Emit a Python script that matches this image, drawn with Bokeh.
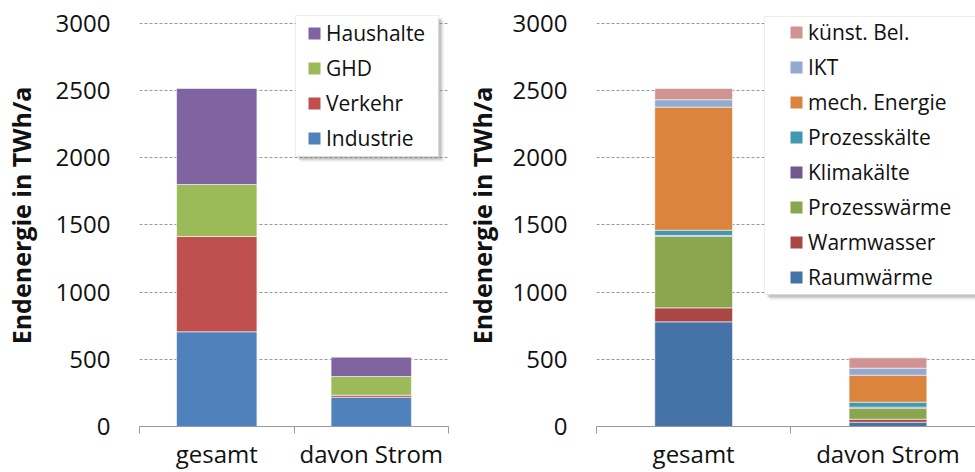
from bokeh.plotting import figure
from bokeh.models import (ColumnDataSource, Range1d, FixedTicker, Legend,
                          LegendItem, BoxAnnotation)
from bokeh.layouts import row
from bokeh.embed import file_html
from bokeh.resources import INLINE

# ---------------- data ----------------
categories = ["gesamt", "davon Strom"]
y_ticks = [0, 500, 1000, 1500, 2000, 2500, 3000]

# left chart: by sector
sectors = ["Industrie", "Verkehr", "GHD", "Haushalte"]
industrie = [705, 218]
verkehr = [709, 15]
ghd = [387, 139]
haushalte = [715, 144]
sector_colors = ["#4f81bd", "#c0504d", "#9bbb59", "#8064a2"]

# right chart: by application
uses = ["Raumwärme", "Warmwasser", "Prozesswärme", "Klimakälte",
        "Prozesskälte", "mech. Energie", "IKT", "künst. Bel."]
raumwaerme = [779, 32]
warmwasser = [104, 22]
prozesswaerme = [531, 82]
klimakaelte = [8, 8]
prozesskaelte = [39, 37]
mech_energie = [916, 201]
ikt = [55, 52]
kuenst_bel = [84, 77]
use_colors = ["#4572a7", "#aa4643", "#89a54e", "#71588f",
              "#4198af", "#db843d", "#93a9cf", "#d19392"]

FONT = "Open Sans"
TXT = "#111111"
GRID = "#999999"
NAN = float("nan")


def legend_frame(p, l, r, t, b):
    """Legend frame with a soft drop shadow (canvas pixel units)."""
    for off, alpha in ((5, 0.18), (3, 0.35)):
        p.add_layout(BoxAnnotation(left=l + off, right=r + off, top=t + off,
                                   bottom=b + off, left_units="canvas",
                                   right_units="canvas", top_units="canvas",
                                   bottom_units="canvas", fill_color="#808080",
                                   fill_alpha=alpha, line_color=None))
    p.add_layout(BoxAnnotation(left=l, right=r, top=t, bottom=b,
                               left_units="canvas", right_units="canvas",
                               top_units="canvas", bottom_units="canvas",
                               fill_color="white", fill_alpha=1,
                               line_color="#c4c4c4", line_width=1))


def make_panel(names, series, colors, width, mbl, mbr, x_end, bar_w,
               lab_standoff, frame_box, leg_loc):
    n = len(categories)
    x_pos = [i + 0.5 for i in range(n)]
    data = {"x": x_pos}
    for nm, s in zip(names, series):
        data[nm] = s
    src = ColumnDataSource(data)

    p = figure(width=width, height=472,
               x_range=Range1d(0, x_end), y_range=Range1d(0, 3141),
               output_backend="svg", toolbar_location=None,
               min_border_left=mbl, min_border_right=mbr,
               min_border_top=4, min_border_bottom=46)
    p.outline_line_color = None
    p.background_fill_color = "white"
    p.border_fill_color = "white"

    p.vbar_stack(names, x="x", width=bar_w, source=src, fill_color=colors,
                 line_color="white", line_width=1, line_alpha=0.55)

    # grid
    p.xgrid.visible = False
    p.ygrid.ticker = FixedTicker(ticks=y_ticks)
    p.ygrid.grid_line_color = GRID
    p.ygrid.grid_line_dash = "3 2"
    p.ygrid.grid_line_width = 1

    # y axis
    ya = p.yaxis[0]
    ya.ticker = FixedTicker(ticks=y_ticks)
    ya.axis_line_color = None
    ya.major_tick_line_color = None
    ya.minor_tick_line_color = None
    ya.major_label_standoff = 23
    ya.major_label_text_font = FONT
    ya.major_label_text_font_size = "24px"
    ya.major_label_text_color = TXT
    ya.axis_label = "Endenergie in TWh/a"
    ya.axis_label_text_font = FONT
    ya.axis_label_text_font_size = "25px"
    ya.axis_label_text_font_style = "bold"
    ya.axis_label_text_color = TXT
    ya.axis_label_standoff = lab_standoff

    # x axis
    xa = p.xaxis[0]
    xa.ticker = FixedTicker(ticks=x_pos, minor_ticks=list(range(n + 1)))
    xa.major_label_overrides = {x: c for x, c in zip(x_pos, categories)}
    xa.major_tick_in = 0
    xa.major_tick_out = 0
    xa.minor_tick_in = 0
    xa.minor_tick_out = 7
    xa.minor_tick_line_color = GRID
    xa.axis_line_color = GRID
    xa.axis_line_width = 1
    xa.major_label_standoff = 3
    xa.major_label_text_font = FONT
    xa.major_label_text_font_size = "24px"
    xa.major_label_text_color = TXT

    # legend frame + legend (square swatches), top entry = top of stack
    legend_frame(p, *frame_box)
    items = []
    for nm, c in zip(names, colors):
        r = p.scatter([NAN], [NAN], marker="square", size=12, fill_color=c,
                      line_color=c, line_width=2.4, line_join="miter")
        items.append(LegendItem(label=nm, renderers=[r]))
    items = items[::-1]
    leg = Legend(items=items, location=leg_loc, margin=0,
                 padding=0, spacing=5,
                 glyph_width=24, glyph_height=30, label_standoff=0,
                 label_text_font=FONT, label_text_font_size="21px",
                 label_text_color=TXT,
                 border_line_color=None, background_fill_alpha=0)
    p.add_layout(leg, "center")
    return p


left = make_panel(sectors, [industrie, verkehr, ghd, haushalte], sector_colors,
                  width=461, mbl=139, mbr=13, x_end=2.0, bar_w=0.52,
                  lab_standoff=15, frame_box=(295, 438, 15, 156),
                  leg_loc=(163, 273))

right = make_panel(uses, [raumwaerme, warmwasser, prozesswaerme, klimakaelte,
                          prozesskaelte, mech_energie, ikt, kuenst_bel],
                   use_colors,
                   width=514, mbl=135, mbr=0, x_end=379 / 194.3, bar_w=0.40,
                   lab_standoff=11, frame_box=(303, 535, 16, 294),
                   leg_loc=(188, 134))

layout = row(left, right)
open("out.html", "w").write(file_html(layout, INLINE))
